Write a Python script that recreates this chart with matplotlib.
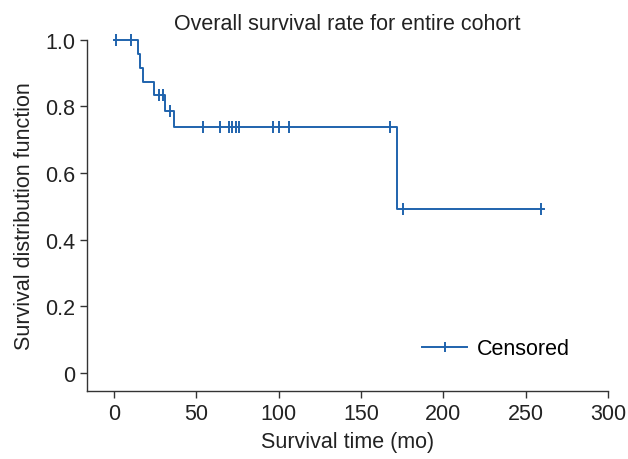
import matplotlib
matplotlib.use("Agg")
import matplotlib.pyplot as plt

# step curve (time in months, survival)
step_times = [0, 14.4, 15.6, 17.4, 24.5, 31.0, 36.6, 171.6, 261.0]
step_surv = [1.0, 0.958, 0.917, 0.875, 0.833, 0.787, 0.738, 0.492, 0.492]

# censored observations
cens_times = [1.2, 10.3, 27.1, 29.8, 34.2,
              53.9, 64.5, 70.0, 71.8, 74.1, 76.1, 96.4, 100.2, 106.4, 167.6,
              175.2, 259.3]
cens_surv = [1.0, 1.0, 0.833, 0.833, 0.787,
             0.738, 0.738, 0.738, 0.738, 0.738, 0.738, 0.738, 0.738, 0.738, 0.738,
             0.492, 0.492]

x_ticks = [0, 50, 100, 150, 200, 250, 300]
y_ticks = [0, 0.2, 0.4, 0.6, 0.8, 1.0]
y_labels = ["0", "0.2", "0.4", "0.6", "0.8", "1.0"]

color = "#1f63ad"
fs = 15.5
plt.rcParams["font.family"] = ["Liberation Sans", "DejaVu Sans"]

fig = plt.figure(figsize=(6.28, 4.6), dpi=100)
ax = fig.add_axes([0.1385, 0.148, 0.83, 0.763])

ax.step(step_times, step_surv, where="post", color=color, lw=1.4, clip_on=False)
ax.plot(cens_times, cens_surv, ls="none", marker="|", ms=8, mew=1.4,
        color=color, clip_on=False)
# legend handle: line with a censor tick
ax.plot([], [], color=color, lw=1.4, marker="|", ms=7, mew=1.4, label="Censored")

ax.set_xlim(-16.4, 300)
ax.set_ylim(-0.055, 1.0)
ax.set_xticks(x_ticks)
ax.set_yticks(y_ticks)
ax.set_yticklabels(y_labels)
ax.tick_params(labelsize=fs, length=5, width=1, color="#333333", labelcolor="#222222")
for side in ("top", "right"):
    ax.spines[side].set_visible(False)
for side in ("left", "bottom"):
    ax.spines[side].set_color("#333333")
    ax.spines[side].set_linewidth(1)

ax.set_xlabel("Survival time (mo)", fontsize=fs, color="#222222", labelpad=5)
ax.set_ylabel("Survival distribution function", fontsize=fs, color="#222222", labelpad=7)
ax.set_title("Overall survival rate for entire cohort", fontsize=fs, color="#222222", pad=8)

ax.legend(loc="center right", bbox_to_anchor=(0.927, 0.12), frameon=False,
          fontsize=fs, handlelength=2.1, handletextpad=0.45, borderpad=0,
          borderaxespad=0)

fig.savefig("out.png", dpi=100)
